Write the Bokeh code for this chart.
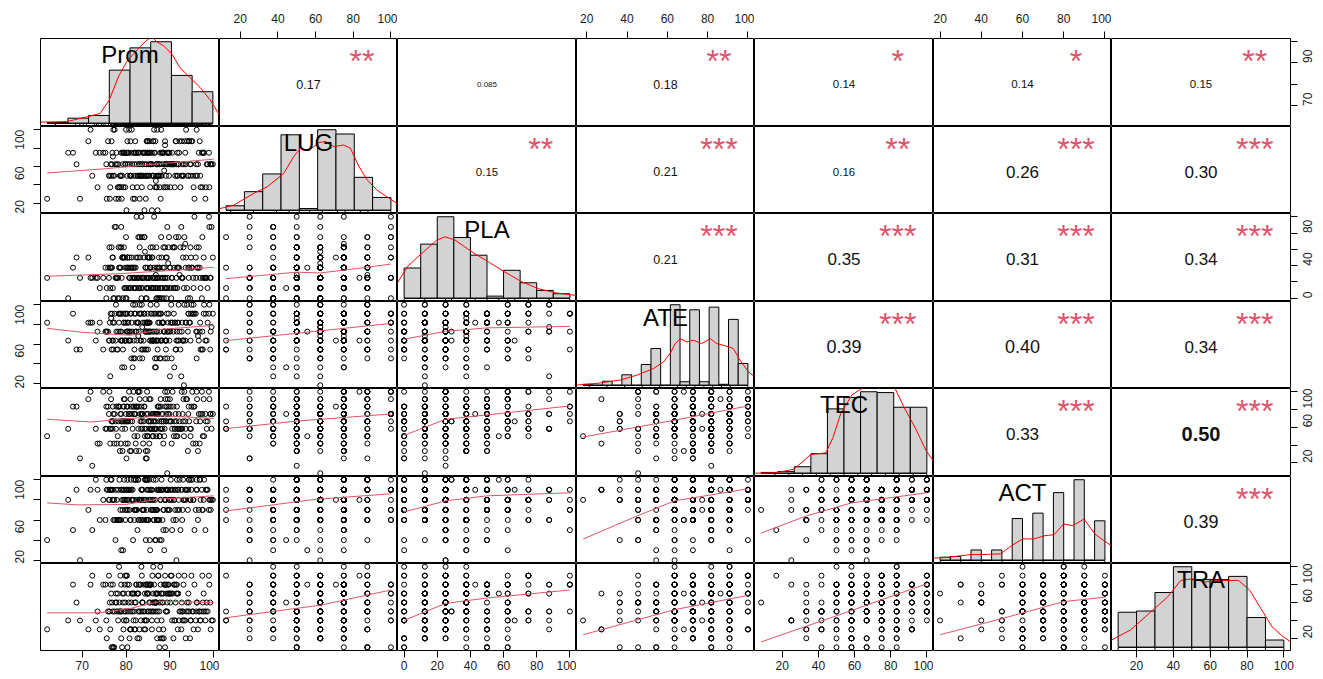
import math
from bokeh.plotting import figure
from bokeh.layouts import gridplot
from bokeh.models import Range1d, LinearAxis, FixedTicker
from bokeh.embed import file_html
from bokeh.resources import INLINE
from bokeh.core.properties import value

prom = [
    83.4, 77.9, 88.6, 81.2, 62.0, 86.3, 79.1, 84.7, 91.5, 76.4,
    87.2, 82.6, 66.8, 89.4, 78.3, 80.9, 85.5, 93.2, 77.1, 83.9,
    88.1, 75.6, 81.7, 96.4, 86.9, 79.6, 72.3, 84.2, 90.8, 78.8,
    82.1, 87.7, 76.9, 85.1, 69.5, 80.4, 92.6, 89.0, 83.0, 79.3,
    86.0, 98.1, 81.5, 74.0, 88.9, 77.6, 94.1, 84.9, 97.0, 91.9,
    85.2, 80.6, 91.2, 78.1, 87.5, 83.3, 96.8, 82.0, 88.3, 76.2,
    90.3, 84.5, 86.6, 79.8, 93.7, 81.9, 89.8, 67.9, 85.9, 83.7,
    77.3, 92.2, 87.0, 80.1, 99.2, 84.1, 88.7, 79.0, 94.6, 82.8,
    86.1, 73.5, 91.0, 85.4, 81.1, 97.5, 89.2, 78.6, 83.6, 90.5,
    87.9, 80.8, 95.3, 86.4, 76.7, 84.8, 92.9, 79.4, 75.3, 98.6,
    88.4, 82.9, 93.0, 86.7, 79.5, 84.6, 90.1, 87.4, 97.8, 81.3,
    85.7, 91.8, 77.8, 83.1, 89.6, 86.2, 95.9, 80.2, 88.2, 92.4,
    84.0, 76.6, 87.1, 94.3, 82.3, 89.1, 99.5, 85.0, 78.4, 90.9,
    86.8, 83.8, 71.4, 88.8, 81.6, 93.5, 87.3, 79.9, 96.1, 85.6,
    82.5, 99.8, 77.0, 91.4, 84.4, 98.4, 78.7, 80.5, 75.9, 94.8,
    89.3, 84.8, 92.0, 96.2, 86.4, 81.8, 90.6, 87.8, 78.9, 94.9,
    85.3, 83.2, 97.3, 88.5, 91.6, 80.0, 86.0, 93.9, 82.7, 95.6,
    87.6, 76.1, 89.7, 84.3, 92.7, 99.0, 85.9, 81.0, 90.2, 88.0,
    74.8, 86.9, 83.5, 94.4, 79.7, 87.0, 98.9, 82.2, 91.1, 85.5,
    77.4, 89.5, 80.3, 93.3, 76.8, 96.6, 84.6, 78.2, 97.7, 95.1,
    81.4, 87.3, 92.1, 78.5, 85.0, 96.0, 83.1, 89.9, 76.3, 90.4,
    84.2, 88.1, 80.7, 93.6, 86.8, 79.2, 98.2, 82.4, 87.6, 91.3,
    73.1, 85.6, 80.1, 94.2, 88.5, 77.0, 83.7, 89.4, 96.9, 81.9,
    86.2, 68.7, 92.8, 84.5, 78.9, 90.0, 87.1, 82.8, 95.4, 85.3,
    79.8, 88.9, 83.5, 91.7, 75.5, 86.6, 80.3, 93.1, 84.9, 99.3,
    77.7, 87.9, 82.2, 89.1, 71.9, 97.4, 94.7, 81.0, 79.5, 76.5,
]
lug = [
    50, 62.5, 37.5, 75, 25, 50, 50, 87.5, 62.5, 37.5,
    12.5, 50, 75, 62.5, 25, 50, 37.5, 62.5, 100, 50,
    75, 25, 50, 62.5, 37.5, 75, 50, 12.5, 62.5, 50,
    87.5, 37.5, 75, 50, 25, 62.5, 50, 37.5, 75, 62.5,
    50, 25, 37.5, 75, 87.5, 62.5, 50, 75, 37.5, 62.5,
    62.5, 75, 50, 37.5, 62.5, 50, 87.5, 25, 75, 50,
    62.5, 50, 75, 37.5, 100, 62.5, 50, 75, 12.5, 62.5,
    50, 87.5, 37.5, 75, 62.5, 50, 55.6, 25, 62.5, 75,
    50, 37.5, 62.5, 87.5, 50, 75, 62.5, 50, 37.5, 75,
    25, 62.5, 50, 75, 87.5, 50, 62.5, 37.5, 75, 62.5,
    75, 62.5, 50, 87.5, 75, 62.5, 37.5, 50, 75, 100,
    62.5, 50, 75, 25, 62.5, 87.5, 50, 75, 62.5, 37.5,
    75, 50, 62.5, 87.5, 75, 50, 62.5, 75, 37.5, 62.5,
    50, 75, 87.5, 62.5, 25, 75, 50, 62.5, 100, 75,
    37.5, 62.5, 50, 87.5, 75, 62.5, 50, 75, 87.5, 62.5,
    75, 87.5, 62.5, 50, 100, 75, 62.5, 75, 37.5, 87.5,
    50, 62.5, 75, 75, 50, 100, 62.5, 87.5, 75, 25,
    62.5, 50, 75, 62.5, 87.5, 37.5, 75, 50, 62.5, 100,
    75, 62.5, 50, 87.5, 75, 62.5, 75, 50, 37.5, 62.5,
    100, 75, 50, 87.5, 62.5, 75, 50, 62.5, 75, 87.5,
    62.5, 50, 75, 37.5, 87.5, 62.5, 50, 75, 25, 62.5,
    75, 50, 100, 62.5, 44.4, 75, 37.5, 62.5, 50, 87.5,
    75, 62.5, 12.5, 50, 75, 70.8, 62.5, 37.5, 50, 75,
    87.5, 62.5, 50, 25, 75, 62.5, 100, 50, 37.5, 75,
    62.5, 83.3, 50, 75, 62.5, 37.5, 87.5, 50, 75, 62.5,
    25, 50, 75, 62.5, 100, 37.5, 50, 87.5, 75, 62.5,
]
pla = [
    12.5, 25, 0, 37.5, 25, 12.5, 50, 0, 25, 12.5,
    37.5, 25, 0, 12.5, 62.5, 25, 37.5, 12.5, 0, 25,
    50, 12.5, 25, 37.5, 0, 12.5, 25, 75, 12.5, 37.5,
    25, 0, 50, 12.5, 25, 37.5, 87.5, 25, 12.5, 0,
    50, 25, 37.5, 12.5, 62.5, 25, 0, 50, 12.5, 37.5,
    25, 37.5, 12.5, 0, 50, 25, 37.5, 12.5, 25, 62.5,
    0, 37.5, 25, 12.5, 50, 25, 75, 37.5, 12.5, 25,
    0, 28.6, 37.5, 12.5, 25, 50, 37.5, 25, 0, 12.5,
    62.5, 25, 37.5, 50, 12.5, 25, 0, 37.5, 75, 25,
    12.5, 50, 25, 37.5, 62.5, 12.5, 25, 50, 37.5, 12.5,
    37.5, 25, 50, 12.5, 62.5, 25, 37.5, 0, 25, 50,
    12.5, 37.5, 25, 75, 42.9, 25, 50, 37.5, 12.5, 62.5,
    25, 37.5, 0, 25, 50, 12.5, 87.5, 25, 37.5, 62.5,
    28.6, 25, 50, 12.5, 37.5, 66.7, 25, 0, 62.5, 37.5,
    25, 50, 12.5, 75, 37.5, 25, 62.5, 12.5, 37.5, 50,
    50, 25, 75, 37.5, 100, 12.5, 62.5, 25, 87.5, 37.5,
    25, 50, 0, 62.5, 37.5, 75, 25, 12.5, 50, 100,
    37.5, 25, 62.5, 57.1, 25, 87.5, 50, 37.5, 12.5, 75,
    25, 62.5, 0, 37.5, 50, 25, 100, 12.5, 62.5, 37.5,
    87.5, 25, 50, 75, 37.5, 62.5, 12.5, 25, 50, 37.5,
    25, 12.5, 37.5, 0, 50, 25, 62.5, 12.5, 37.5, 25,
    75, 0, 25, 37.5, 12.5, 50, 25, 100, 37.5, 12.5,
    25, 62.5, 0, 37.5, 25, 50, 12.5, 87.5, 25, 37.5,
    12.5, 50, 25, 0, 62.5, 37.5, 25, 75, 12.5, 50,
    37.5, 25, 100, 12.5, 0, 25, 50, 62.5, 37.5, 25,
    87.5, 12.5, 37.5, 50, 25, 75, 62.5, 12.5, 50, 37.5,
]
ate = [
    63.6, 54.5, 72.7, 45.5, 81.8, 63.6, 36.4, 72.7, 63.6, 27.3,
    54.5, 81.8, 63.6, 45.5, 90.9, 72.7, 63.6, 18.2, 54.5, 81.8,
    63.6, 72.7, 45.5, 68.2, 63.6, 36.4, 81.8, 54.5, 72.7, 63.6,
    100, 45.5, 63.6, 81.8, 54.5, 72.7, 27.3, 63.6, 90.9, 54.5,
    72.7, 63.6, 36.4, 81.8, 45.5, 63.6, 72.7, 90.9, 54.5, 81.8,
    72.7, 63.6, 81.8, 54.5, 90.9, 63.6, 72.7, 45.5, 81.8, 63.6,
    100, 72.7, 36.4, 63.6, 81.8, 54.5, 72.7, 90.9, 63.6, 77.3,
    81.8, 72.7, 45.5, 63.6, 54.5, 90.9, 72.7, 63.6, 81.8, 68.2,
    63.6, 72.7, 36.4, 81.8, 90.9, 54.5, 63.6, 72.7, 100, 81.8,
    45.5, 63.6, 90.9, 72.7, 54.5, 81.8, 63.6, 90.9, 72.7, 81.8,
    81.8, 72.7, 63.6, 90.9, 81.8, 54.5, 72.7, 63.6, 100, 81.8,
    90.9, 63.6, 72.7, 45.5, 81.8, 63.6, 90.9, 72.7, 81.8, 54.5,
    63.6, 86.4, 72.7, 90.9, 81.8, 63.6, 77.3, 72.7, 81.8, 90.9,
    63.6, 54.5, 81.8, 72.7, 100, 63.6, 90.9, 81.8, 45.5, 72.7,
    63.6, 90.9, 81.8, 54.5, 72.7, 63.6, 90.9, 81.8, 72.7, 90.9,
    90.9, 81.8, 100, 72.7, 90.9, 63.6, 81.8, 90.9, 72.7, 100,
    81.8, 90.9, 54.5, 81.8, 72.7, 90.9, 63.6, 100, 81.8, 90.9,
    72.7, 63.6, 90.9, 81.8, 72.7, 100, 90.9, 63.6, 81.8, 90.9,
    54.5, 72.7, 90.9, 81.8, 63.6, 100, 90.9, 72.7, 81.8, 63.6,
    90.9, 72.7, 81.8, 100, 90.9, 63.6, 81.8, 72.7, 90.9, 90.9,
    72.7, 81.8, 63.6, 90.9, 54.5, 72.7, 100, 63.6, 81.8, 45.5,
    90.9, 63.6, 72.7, 81.8, 36.4, 63.6, 90.9, 72.7, 81.8, 54.5,
    63.6, 100, 72.7, 90.9, 81.8, 63.6, 45.5, 72.7, 81.8, 90.9,
    63.6, 54.5, 81.8, 72.7, 90.9, 27.3, 63.6, 81.8, 100, 72.7,
    90.9, 63.6, 54.5, 81.8, 72.7, 45.5, 90.9, 63.6, 81.8, 72.7,
    100, 63.6, 90.9, 54.5, 81.8, 72.7, 63.6, 90.9, 81.8, 90.9,
]
tec = [
    58.3, 41.7, 66.7, 33.3, 50, 75, 58.3, 25, 66.7, 41.7,
    83.3, 50, 58.3, 8.3, 66.7, 33.3, 58.3, 50, 75, 41.7,
    66.7, 58.3, 100, 33.3, 50, 66.7, 16.7, 58.3, 83.3, 41.7,
    75, 50, 58.3, 66.7, 25, 41.7, 58.3, 91.7, 33.3, 66.7,
    50, 75, 58.3, 41.7, 83.3, 66.7, 33.3, 50, 75, 58.3,
    66.7, 75, 58.3, 50, 83.3, 66.7, 41.7, 75, 58.3, 100,
    66.7, 33.3, 75, 58.3, 91.7, 50, 66.7, 83.3, 58.3, 75,
    41.7, 66.7, 58.3, 25, 75, 83.3, 50, 66.7, 58.3, 100,
    75, 41.7, 66.7, 58.3, 83.3, 50, 75, 33.3, 66.7, 58.3,
    91.7, 75, 41.7, 58.3, 66.7, 50, 75, 83.3, 58.3, 66.7,
    75, 83.3, 66.7, 58.3, 91.7, 75, 66.7, 83.3, 50, 75,
    66.7, 58.3, 83.3, 100, 75, 66.7, 41.7, 83.3, 75, 58.3,
    66.7, 91.7, 75, 83.3, 33.3, 66.7, 58.3, 75, 83.3, 50,
    66.7, 75, 91.7, 58.3, 83.3, 66.7, 75, 41.7, 100, 58.3,
    83.3, 75, 66.7, 50, 91.7, 58.3, 75, 66.7, 83.3, 58.3,
    83.3, 100, 75, 91.7, 66.7, 83.3, 100, 58.3, 75, 83.3,
    91.7, 75, 100, 66.7, 83.3, 75, 58.3, 91.7, 100, 83.3,
    66.7, 75, 83.3, 50, 100, 91.7, 75, 66.7, 83.3, 58.3,
    100, 75, 83.3, 66.7, 91.7, 75, 100, 83.3, 58.3, 66.7,
    75, 91.7, 83.3, 100, 66.7, 75, 58.3, 83.3, 91.7, 100,
    66.7, 75, 58.3, 83.3, 50, 66.7, 91.7, 75, 58.3, 41.7,
    83.3, 66.7, 100, 58.3, 75, 33.3, 66.7, 83.3, 50, 75,
    58.3, 91.7, 66.7, 75, 41.7, 83.3, 58.3, 100, 66.7, 75,
    50, 83.3, 58.3, 25, 66.7, 91.7, 75, 58.3, 83.3, 41.7,
    66.7, 100, 75, 50, 83.3, 58.3, 66.7, 91.7, 33.3, 75,
    58.3, 83.3, 41.7, 66.7, 100, 75, 50, 91.7, 83.3, 58.3,
]
act = [
    60, 80, 70, 90, 40, 60, 80, 70, 20, 90,
    60, 50, 80, 70, 60, 90, 30, 80, 60, 70,
    40, 90, 80, 60, 70, 100, 50, 80, 60, 90,
    70, 40, 80, 60, 20, 70, 90, 80, 60, 30,
    70, 50, 90, 60, 80, 40, 70, 100, 80, 90,
    80, 90, 70, 60, 90, 80, 100, 70, 60, 80,
    90, 40, 80, 70, 90, 60, 80, 50, 90, 70,
    80, 100, 60, 90, 80, 70, 30, 90, 80, 60,
    70, 90, 80, 40, 100, 70, 90, 60, 80, 50,
    90, 70, 80, 60, 100, 90, 70, 80, 60, 90,
    90, 80, 100, 70, 90, 60, 80, 90, 100, 80,
    70, 90, 60, 80, 90, 100, 70, 80, 90, 50,
    80, 90, 60, 100, 70, 90, 80, 90, 60, 80,
    100, 90, 70, 80, 40, 90, 60, 80, 100, 90,
    70, 80, 90, 60, 100, 90, 70, 80, 90, 100,
    90, 100, 80, 90, 70, 100, 90, 80, 60, 90,
    100, 80, 90, 70, 100, 90, 80, 90, 100, 50,
    90, 80, 70, 100, 90, 80, 90, 60, 100, 90,
    80, 70, 90, 100, 80, 90, 70, 100, 90, 80,
    60, 90, 100, 80, 90, 70, 100, 90, 80, 100,
    80, 90, 70, 100, 60, 90, 80, 70, 90, 80,
    60, 100, 90, 80, 40, 70, 90, 80, 60, 90,
    100, 80, 70, 90, 50, 80, 60, 90, 100, 70,
    80, 90, 60, 80, 30, 90, 70, 100, 80, 90,
    60, 80, 90, 70, 100, 40, 90, 80, 60, 70,
    90, 80, 100, 50, 90, 70, 80, 60, 90, 100,
]
tra = [
    40, 50, 20, 60, 30, 50, 10, 40, 70, 30,
    50, 20, 40, 60, 50, 30, 80, 40, 10, 50,
    70, 20, 40, 30, 60, 50, 90, 40, 20, 50,
    30, 60, 10, 70, 40, 50, 30, 80, 20, 60,
    50, 40, 70, 30, 10, 60, 50, 80, 40, 70,
    50, 60, 40, 70, 30, 80, 50, 60, 20, 50,
    70, 40, 60, 90, 50, 30, 70, 80, 40, 60,
    10, 50, 70, 40, 60, 30, 80, 50, 20, 70,
    60, 50, 40, 80, 30, 60, 70, 50, 90, 40,
    80, 20, 50, 60, 10, 70, 40, 30, 80, 50,
    60, 80, 50, 70, 40, 80, 60, 90, 50, 70,
    80, 30, 60, 50, 80, 70, 40, 90, 60, 50,
    80, 70, 20, 60, 80, 50, 40, 70, 100, 80,
    50, 60, 30, 80, 70, 40, 90, 50, 60, 80,
    70, 40, 50, 80, 30, 60, 90, 70, 50, 40,
    80, 70, 90, 60, 80, 50, 70, 100, 80, 90,
    60, 80, 50, 70, 80, 40, 90, 60, 70, 80,
    50, 90, 80, 70, 60, 80, 30, 50, 90, 70,
    80, 60, 100, 50, 80, 70, 90, 40, 80, 60,
    50, 70, 80, 90, 60, 50, 80, 40, 70, 50,
    50, 70, 40, 60, 80, 50, 30, 70, 60, 90,
    50, 40, 80, 20, 60, 70, 50, 80, 10, 60,
    40, 50, 90, 70, 30, 80, 60, 50, 40, 70,
    100, 60, 50, 80, 20, 70, 40, 50, 30, 80,
    60, 90, 50, 70, 40, 60, 10, 80, 50, 30,
    70, 20, 60, 50, 80, 90, 40, 30, 70, 80,
]

# ---------------- histograms: bin edges and bar heights (tallest bar = 1) ----------------
prom_breaks = [60, 65, 70, 75, 80, 85, 90, 95, 100]
prom_hist = [0.01, 0.062, 0.095, 0.652, 0.925, 1.0, 0.587, 0.387]
lug_breaks = [10, 20, 30, 40, 50, 60, 70, 80, 90, 100]
lug_hist = [0.056, 0.231, 0.451, 0.937, 0.022, 1.0, 0.947, 0.409, 0.159]
pla_breaks = [0, 10, 20, 30, 40, 50, 60, 70, 80, 90, 100]
pla_hist = [0.371, 0.664, 1.0, 0.746, 0.528, 0.026, 0.343, 0.19, 0.096, 0.055]
ate_breaks = [15, 20, 25, 30, 35, 40, 45, 50, 55, 60, 65, 70, 75, 80, 85, 90, 95, 100]
ate_hist = [0.012, 0, 0.05, 0, 0.13, 0, 0.258, 0.456, 0, 1.0, 0.044, 0.937, 0.044, 0.97, 0.012, 0.818, 0.27]
tec_breaks = [0, 10, 20, 30, 40, 50, 60, 70, 80, 90, 100]
tec_hist = [0.01, 0.02, 0.08, 0.24, 0.79, 0.93, 1.0, 0.99, 0.81, 0.81]
act_breaks = [20, 25, 30, 35, 40, 45, 50, 55, 60, 65, 70, 75, 80, 85, 90, 95, 100]
act_hist = [0.038, 0.047, 0, 0.128, 0, 0.128, 0, 0.518, 0, 0.585, 0, 0.84, 0, 1.0, 0, 0.49]
tra_breaks = [10, 20, 30, 40, 50, 60, 70, 80, 90, 100]
tra_hist = [0.435, 0.45, 0.68, 1.0, 0.84, 0.84, 0.88, 0.37, 0.09]

# ---------------- density curves (same relative scale) ----------------
prom_dens_x = [58.4, 64.7, 69.9, 72.8, 75.0, 77.2, 79.2, 82.4, 84.1, 85.3, 86.5, 88.1, 90.1, 92.1, 94.5, 96.9, 99.3, 101.6]
prom_dens_y = [0.013, 0.02, 0.082, 0.12, 0.285, 0.571, 0.755, 0.938, 1.02, 1.06, 1.0, 0.95, 0.85, 0.68, 0.56, 0.44, 0.29, 0.1]
lug_dens_x = [6.4, 14.2, 25.1, 32.4, 41.5, 46.9, 50.6, 55.2, 60.6, 64.3, 68.8, 74.2, 77.9, 82.4, 86.9, 92.4, 97.8, 103.6]
lug_dens_y = [0.02, 0.064, 0.21, 0.29, 0.458, 0.666, 0.77, 0.74, 0.84, 0.855, 0.79, 0.81, 0.77, 0.55, 0.38, 0.25, 0.168, 0.08]
pla_dens_x = [-4, 2.5, 10.6, 19.7, 24.7, 30.8, 40.9, 50.9, 59.0, 71.1, 81.2, 91.3, 104]
pla_dens_y = [0.19, 0.40, 0.549, 0.713, 0.754, 0.713, 0.569, 0.446, 0.343, 0.2, 0.116, 0.067, 0.034]
ate_dens_x = [11.6, 22.2, 34.2, 42.8, 51.4, 56.5, 59.9, 62.5, 65.1, 68.5, 71.9, 76.2, 80.5, 83.9, 89.1, 92.5, 95.9, 100.2, 103.4]
ate_dens_y = [0.003, 0.024, 0.065, 0.126, 0.209, 0.291, 0.394, 0.517, 0.579, 0.538, 0.559, 0.518, 0.579, 0.518, 0.485, 0.456, 0.312, 0.168, 0.106]
tec_dens_x = [-4, 9.7, 19.8, 30, 39, 43.4, 48, 54.7, 61.5, 70, 80.6, 86.2, 92.9, 99.7, 104]
tec_dens_y = [0.0, 0.007, 0.05, 0.23, 0.25, 0.44, 0.73, 0.96, 1.05, 1.2, 1.05, 0.81, 0.56, 0.27, 0.15]
act_dens_x = [16.8, 24.2, 35.0, 40.3, 49.3, 54.7, 60.1, 65.5, 70.9, 75.4, 79.9, 84.4, 89.8, 95.2, 99.7, 103.2]
act_dens_y = [0.026, 0.038, 0.071, 0.071, 0.079, 0.182, 0.265, 0.265, 0.306, 0.318, 0.45, 0.43, 0.511, 0.326, 0.24, 0.18]
tra_dens_x = [6.4, 16.6, 26.8, 36.9, 44.0, 50.1, 57.2, 65.3, 75.4, 81.5, 87.5, 93.6, 99.6, 103.6]
tra_dens_y = [0.09, 0.213, 0.419, 0.625, 0.83, 0.85, 0.81, 0.83, 0.83, 0.707, 0.481, 0.254, 0.131, 0.069]

# ---------------- smoothers in the lower panels (row variable vs column variable) ----------------
smooth_LUG = {"Prom": ([62, 75, 85, 100], [53, 57.5, 62, 68])}
smooth_PLA = {"Prom": ([62, 78, 90, 100], [27, 30, 34, 38]),
              "LUG": ([12.5, 50, 62.5, 87.5, 100], [24, 32, 31, 38, 42])}
smooth_ATE = {"Prom": ([62, 70, 81, 88, 100], [76, 72, 69, 75, 79]),
              "LUG": ([12.5, 50, 100], [63.5, 71, 81]),
              "PLA": ([0, 25, 50, 100], [65, 73, 76.5, 78])}
smooth_TEC = {"Prom": ([62, 72, 88, 100], [69, 66, 73, 70]),
              "LUG": ([12.5, 50, 100], [58.5, 67, 75]),
              "PLA": ([0, 12.5, 25, 50, 100], [51, 60, 69, 74, 84]),
              "ATE": ([18.2, 63.6, 100], [49, 68, 84])}
smooth_ACT = {"Prom": ([62, 69, 80, 87, 100], [77, 75, 75.5, 80.5, 84]),
              "LUG": ([12.5, 60, 100], [69, 80.5, 86]),
              "PLA": ([0, 25, 50, 100], [68, 79, 84, 87]),
              "ATE": ([18.2, 45, 63.6, 100], [41, 64, 79, 91]),
              "TEC": ([8.3, 33.3, 58.3, 100], [47, 64, 77, 87])}
smooth_TRA = {"Prom": ([62, 74, 81, 88, 100], [48.5, 48.5, 53.5, 61.5, 60]),
              "LUG": ([12.5, 62.5, 100], [43, 57, 74]),
              "PLA": ([0, 25, 50, 100], [40, 59, 65, 74]),
              "ATE": ([18.2, 63.6, 100], [24, 52, 68]),
              "TEC": ([8.3, 54, 100], [16, 48, 81]),
              "ACT": ([20, 50, 80, 100], [24, 42, 61, 66])}

# ---------------- correlations in the upper panels ----------------
cor_Prom = {"LUG": ("0.17", "**"), "PLA": ("0.085", ""), "ATE": ("0.18", "**"),
            "TEC": ("0.14", "*"), "ACT": ("0.14", "*"), "TRA": ("0.15", "**")}
cor_LUG = {"PLA": ("0.15", "**"), "ATE": ("0.21", "***"), "TEC": ("0.16", "**"),
           "ACT": ("0.26", "***"), "TRA": ("0.30", "***")}
cor_PLA = {"ATE": ("0.21", "***"), "TEC": ("0.35", "***"), "ACT": ("0.31", "***"), "TRA": ("0.34", "***")}
cor_ATE = {"TEC": ("0.39", "***"), "ACT": ("0.40", "***"), "TRA": ("0.34", "***")}
cor_TEC = {"ACT": ("0.33", "***"), "TRA": ("0.50", "***")}
cor_ACT = {"TRA": ("0.39", "***")}

# ---------------- axis ticks ----------------
ticks_Prom = [70, 80, 90, 100]
ticks_pct = [20, 40, 60, 80, 100]
ticks_PLA = [0, 20, 40, 60, 80, 100]

names = ["Prom", "LUG", "PLA", "ATE", "TEC", "ACT", "TRA"]
obs = {"Prom": prom, "LUG": lug, "PLA": pla, "ATE": ate, "TEC": tec, "ACT": act, "TRA": tra}
breaks = {"Prom": prom_breaks, "LUG": lug_breaks, "PLA": pla_breaks, "ATE": ate_breaks,
          "TEC": tec_breaks, "ACT": act_breaks, "TRA": tra_breaks}
hists = {"Prom": prom_hist, "LUG": lug_hist, "PLA": pla_hist, "ATE": ate_hist,
         "TEC": tec_hist, "ACT": act_hist, "TRA": tra_hist}
dens = {"Prom": (prom_dens_x, prom_dens_y), "LUG": (lug_dens_x, lug_dens_y),
        "PLA": (pla_dens_x, pla_dens_y), "ATE": (ate_dens_x, ate_dens_y),
        "TEC": (tec_dens_x, tec_dens_y), "ACT": (act_dens_x, act_dens_y),
        "TRA": (tra_dens_x, tra_dens_y)}
smooth = {"LUG": smooth_LUG, "PLA": smooth_PLA, "ATE": smooth_ATE,
          "TEC": smooth_TEC, "ACT": smooth_ACT, "TRA": smooth_TRA}
cors = {"Prom": cor_Prom, "LUG": cor_LUG, "PLA": cor_PLA, "ATE": cor_ATE,
        "TEC": cor_TEC, "ACT": cor_ACT}
ticks = {"Prom": ticks_Prom, "LUG": ticks_pct, "PLA": ticks_PLA, "ATE": ticks_pct,
         "TEC": ticks_pct, "ACT": ticks_pct, "TRA": ticks_pct}
side_hidden = {"Prom": [80, 100], "LUG": [40, 80], "PLA": [20, 60, 100], "ATE": [40, 80],
               "TEC": [40, 80], "ACT": [40, 80], "TRA": [40, 80]}

n = min(len(v) for v in obs.values())


def ext(lo, hi):
    r = hi - lo
    return (lo - 0.04 * r, hi + 0.04 * r)


var_rng = {k: ext(min(v[:n]), max(v[:n])) for k, v in obs.items()}
hist_rng = {k: ext(b[0], b[-1]) for k, b in breaks.items()}

FW = [179, 178, 179, 178, 179, 178, 179]
FH = [88, 87, 88, 87, 88, 87, 87]
LB, TB, RB, BB = 40, 38, 31, 25
FONT = "Liberation Sans"
STAR_COL = "#DF536B"


def make_fig(i, j, xr, yr):
    p = figure(frame_width=FW[j], frame_height=FH[i],
               x_range=Range1d(*xr), y_range=Range1d(*yr),
               x_axis_location=None, y_axis_location=None,
               toolbar_location=None, tools="", output_backend="svg", min_border=0)
    p.min_border_left = LB if j == 0 else 0
    p.min_border_right = RB if j == 6 else 0
    p.min_border_top = TB if i == 0 else 0
    p.min_border_bottom = BB if i == 6 else 0
    p.outline_line_color = "black"
    p.outline_line_width = 1
    p.outline_line_alpha = 1
    p.background_fill_color = "white"
    p.border_fill_color = "white"
    p.grid.visible = False
    return p


def add_axis(p, side, var, hidden=(), range_name=None):
    kw = {}
    if range_name is not None:
        if side in ("above", "below"):
            kw["x_range_name"] = range_name
        else:
            kw["y_range_name"] = range_name
    ax = LinearAxis(ticker=FixedTicker(ticks=ticks[var], minor_ticks=[]), **kw)
    if hidden:
        ax.major_label_overrides = {t: "" for t in hidden}
    ax.axis_line_color = None
    ax.major_tick_out = 7
    ax.major_tick_in = 0
    ax.minor_tick_out = 0
    ax.minor_tick_in = 0
    ax.major_tick_line_color = "black"
    ax.major_label_text_font = FONT
    ax.major_label_text_font_size = "12px"
    ax.major_label_text_color = "#1a1a1a"
    if side in ("left", "right"):
        ax.major_label_orientation = math.pi / 2
    ax.major_label_standoff = {"above": 9, "below": 3, "left": 14, "right": 10}[side]
    p.add_layout(ax, side)


def cor_style(r):
    if r < 0.1:
        return "8px", "normal"
    if r < 0.165:
        return "11.5px", "normal"
    if r < 0.25:
        return "12.5px", "normal"
    if r < 0.37:
        return "17px", "normal"
    if r < 0.45:
        return "18px", "normal"
    return "20px", "bold"


rows = []
for i in range(7):
    ry = names[i]
    row = []
    for j in range(7):
        cx = names[j]
        if i == j:
            xr = hist_rng[cx]
            p = make_fig(i, j, xr, (-0.04, 1.04))
            b = breaks[cx]
            p.quad(left=b[:-1], right=b[1:], bottom=0, top=hists[cx],
                   fill_color="#D3D3D3", line_color="black", line_width=1)
            p.segment(x0=[b[0]], y0=[0], x1=[b[-1]], y1=[0], line_color="black", line_width=1)
            dx, dy = dens[cx]
            p.line(dx, dy, line_color="#FF0000", line_width=1)
            u = sorted(set(obs[cx][:n]))
            p.segment(x0=u, y0=[-0.04] * len(u), x1=u, y1=[-0.0076] * len(u),
                      line_color="black", line_width=1)
            p.text(x=[(xr[0] + xr[1]) / 2], y=[1.04], text=[cx],
                   text_font=value(FONT), text_font_size=value("24px"),
                   text_align="center", text_baseline="alphabetic",
                   y_offset=16, text_color="black")
            if i == 6:
                p.extra_x_ranges = {"var": Range1d(*var_rng[cx])}
                p.extra_y_ranges = {"var": Range1d(*var_rng[ry])}
                add_axis(p, "below", cx, range_name="var")
                add_axis(p, "right", ry, hidden=side_hidden[ry], range_name="var")
        elif i > j:
            xr, yr = var_rng[cx], var_rng[ry]
            p = make_fig(i, j, xr, yr)
            p.scatter(obs[cx][:n], obs[ry][:n], marker="circle", size=5,
                      fill_color=None, line_color="black", line_width=1)
            sx, sy = smooth[ry][cx]
            p.line(sx, sy, line_color=STAR_COL, line_width=1)
            if i == 6 and j % 2 == 0:
                add_axis(p, "below", cx)
            if j == 0 and i % 2 == 1:
                add_axis(p, "left", ry, hidden=side_hidden[ry])
        else:
            xr, yr = var_rng[cx], var_rng[ry]
            p = make_fig(i, j, xr, yr)
            txt, stars = cors[ry][cx]
            fs, fw = cor_style(abs(float(txt)))
            p.text(x=[xr[0] + 0.5 * (xr[1] - xr[0])], y=[yr[0] + 0.48 * (yr[1] - yr[0])],
                   text=[txt], text_font=value(FONT), text_font_size=value(fs),
                   text_font_style=fw, text_align="center", text_baseline="middle",
                   text_color="#111111")
            if stars:
                p.text(x=[xr[0] + 0.8 * (xr[1] - xr[0])], y=[yr[0] + 0.78 * (yr[1] - yr[0])],
                       text=[stars], text_font=value(FONT), text_font_size=value("32px"),
                       text_align="center", text_baseline="alphabetic", y_offset=3,
                       text_color=STAR_COL)
            if i == 0 and j % 2 == 1:
                add_axis(p, "above", cx)
            if j == 6 and i % 2 == 0:
                add_axis(p, "right", ry, hidden=side_hidden[ry])
        row.append(p)
    rows.append(row)

grid = gridplot(rows, toolbar_location=None)
open("out.html", "w").write(file_html(grid, INLINE, "Correlation chart"))
